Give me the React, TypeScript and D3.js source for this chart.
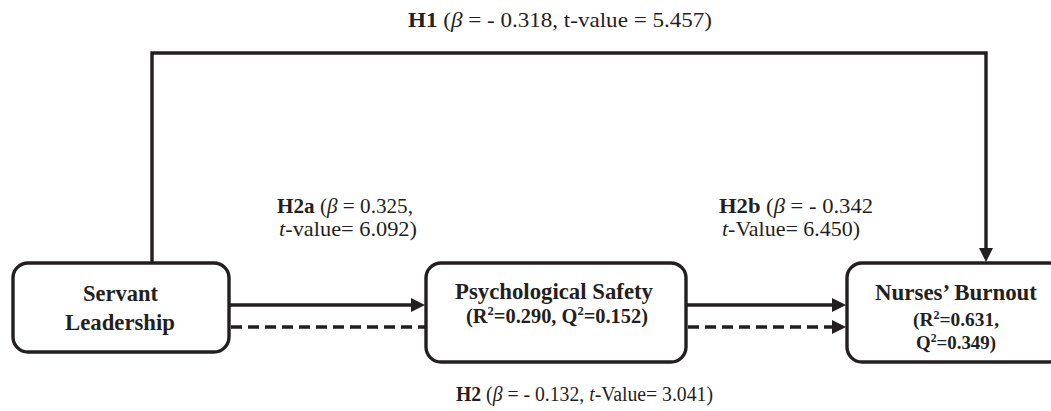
import React, { useEffect, useRef } from 'react';
import * as d3 from 'd3';

// Constructs (boxes)
const nodeIds = ['servant', 'psych', 'burnout'];
const nodeTitles = [['Servant', 'Leadership'], ['Psychological Safety'], ['Nurses\u2019 Burnout']];
const rSquared = [null, 0.29, 0.631];
const qSquared = [null, 0.152, 0.349];

// Hypotheses (paths)
const hypIds = ['H1', 'H2a', 'H2b', 'H2'];
const betas = [-0.318, 0.325, -0.342, -0.132];
const tValues = [5.457, 6.092, 6.45, 3.041];

const INK = '#231f20';
const SERIF = '"Liberation Serif", "Times New Roman", serif';

type Seg = { t: string; b?: boolean; i?: boolean; sup?: boolean };
type Line = { x: number; y: number; w: number; size: number; segs: Seg[] };

const fmtB = (v: number) => (v < 0 ? '- ' : '') + Math.abs(v).toFixed(3);
const fmtT = (v: number) => v.toFixed(3);

function App() {
    const ref = useRef<SVGSVGElement | null>(null);

    useEffect(() => {
        if (!ref.current) return;
        const svg = d3.select(ref.current);
        svg.selectAll('*').remove();

        // box geometry
        const boxes = [
            { x0: 13, x1: 229, y0: 263, y1: 352 },
            { x0: 426, x1: 686, y0: 263, y1: 362 },
            { x0: 847, x1: 1064, y0: 263, y1: 362 },
        ];
        const yTop = 53;
        const ySolid = 305;
        const yDash = 327;
        const xUp = 152;
        const xDown = 986;
        const ah = 14; // arrowhead length
        const aw = 7; // arrowhead half width

        const g = svg.append('g');

        const arrowRight = (x: number, y: number) =>
            g.append('path')
                .attr('d', `M${x},${y} L${x - ah},${y - aw} L${x - ah},${y + aw} Z`)
                .attr('fill', INK);
        const arrowDown = (x: number, y: number) =>
            g.append('path')
                .attr('d', `M${x},${y} L${x - aw},${y - ah} L${x + aw},${y - ah} Z`)
                .attr('fill', INK);

        const line = d3.line<[number, number]>();

        // H1 direct path over the top
        g.append('path')
            .attr('d', line([[xUp, boxes[0].y0], [xUp, yTop], [xDown, yTop], [xDown, boxes[2].y0 - ah + 1]]))
            .attr('fill', 'none').attr('stroke', INK).attr('stroke-width', 3.4)
            .attr('stroke-linejoin', 'miter');
        arrowDown(xDown, boxes[2].y0 - 1);

        // H2a / H2b solid arrows
        [[0, 1], [1, 2]].forEach(([a, b]) => {
            g.append('path')
                .attr('d', line([[boxes[a].x1, ySolid], [boxes[b].x0 - ah + 1, ySolid]]))
                .attr('stroke', INK).attr('stroke-width', 3.6);
            arrowRight(boxes[b].x0 - 1, ySolid);
        });

        // H2 indirect (dashed) path
        g.append('path')
            .attr('d', line([[boxes[0].x1 + 2, yDash], [boxes[1].x0, yDash]]))
            .attr('stroke', INK).attr('stroke-width', 3.6).attr('stroke-dasharray', '11,6');
        g.append('path')
            .attr('d', line([[boxes[1].x1 + 2, yDash], [boxes[2].x0 - ah + 1, yDash]]))
            .attr('stroke', INK).attr('stroke-width', 3.6).attr('stroke-dasharray', '11,6');
        arrowRight(boxes[2].x0 - 1, yDash);

        // boxes
        g.selectAll('rect.node')
            .data(nodeIds)
            .enter()
            .append('rect')
            .attr('class', 'node')
            .attr('x', (d, i) => boxes[i].x0)
            .attr('y', (d, i) => boxes[i].y0)
            .attr('width', (d, i) => boxes[i].x1 - boxes[i].x0)
            .attr('height', (d, i) => boxes[i].y1 - boxes[i].y0)
            .attr('rx', 15)
            .attr('fill', '#fff')
            .attr('stroke', INK)
            .attr('stroke-width', 3.4);

        // text lines
        const lines: Line[] = [];
        const sq = (k: string, v: number): Seg[] => [
            { t: k, b: true }, { t: '2', b: true, sup: true }, { t: '=' + v.toFixed(3), b: true },
        ];

        // box labels
        lines.push({ x: 83, y: 301, w: 75, size: 23, segs: [{ t: nodeTitles[0][0], b: true }] });
        lines.push({ x: 65, y: 330, w: 110, size: 23, segs: [{ t: nodeTitles[0][1], b: true }] });
        lines.push({ x: 455, y: 299, w: 198, size: 23, segs: [{ t: nodeTitles[1][0], b: true }] });
        lines.push({
            x: 466, y: 323, w: 182, size: 20,
            segs: [{ t: '(', b: true }, ...sq('R', rSquared[1] as number), { t: ', ', b: true },
                ...sq('Q', qSquared[1] as number), { t: ')', b: true }],
        });
        lines.push({ x: 875, y: 300, w: 162, size: 23, segs: [{ t: nodeTitles[2][0], b: true }] });
        lines.push({
            x: 913, y: 326, w: 86, size: 18.5,
            segs: [{ t: '(', b: true }, ...sq('R', rSquared[2] as number), { t: ',', b: true }],
        });
        lines.push({
            x: 916, y: 349, w: 80, size: 18.5,
            segs: [...sq('Q', qSquared[2] as number), { t: ')', b: true }],
        });

        // hypothesis labels
        const beta: Seg = { t: '\u03b2', i: true };
        lines.push({
            x: 408, y: 27, w: 304, size: 22,
            segs: [{ t: hypIds[0], b: true }, { t: ' (' }, beta,
                { t: ` = ${fmtB(betas[0])}, t-value = ${fmtT(tValues[0])})` }],
        });
        lines.push({
            x: 277, y: 213, w: 136, size: 21,
            segs: [{ t: hypIds[1], b: true }, { t: ' (' }, beta, { t: ` = ${fmtB(betas[1])},` }],
        });
        lines.push({
            x: 279, y: 236, w: 138, size: 21,
            segs: [{ t: 't', i: true }, { t: `-value= ${fmtT(tValues[1])})` }],
        });
        lines.push({
            x: 719, y: 213, w: 154, size: 21,
            segs: [{ t: hypIds[2], b: true }, { t: ' (' }, beta, { t: ` = ${fmtB(betas[2])}` }],
        });
        lines.push({
            x: 722, y: 236, w: 138, size: 21,
            segs: [{ t: 't', i: true }, { t: `-Value= ${fmtT(tValues[2])})` }],
        });
        lines.push({
            x: 456, y: 401, w: 257, size: 20,
            segs: [{ t: hypIds[3], b: true }, { t: ' (' }, beta, { t: ` = ${fmtB(betas[3])}, ` },
                { t: 't', i: true }, { t: `-Value= ${fmtT(tValues[3])})` }],
        });

        lines.forEach((ln) => {
            const txt = g.append('text')
                .attr('x', ln.x)
                .attr('y', ln.y)
                .attr('font-family', SERIF)
                .attr('font-size', ln.size)
                .attr('fill', INK)
                .attr('textLength', ln.w)
                .attr('lengthAdjust', 'spacingAndGlyphs')
                .style('white-space', 'pre');
            let shifted = false;
            ln.segs.forEach((s) => {
                const ts = txt.append('tspan')
                    .attr('font-weight', s.b ? 'bold' : 'normal')
                    .attr('font-style', s.i ? 'italic' : 'normal')
                    .text(s.t);
                if (s.sup) {
                    ts.attr('dy', -ln.size * 0.38).attr('font-size', ln.size * 0.62);
                    shifted = true;
                } else if (shifted) {
                    ts.attr('dy', ln.size * 0.38);
                    shifted = false;
                }
            });
        });
    }, []);

    return (
        <svg
            ref={ref}
            width={1051}
            height={411}
            style={{ position: 'absolute', left: 0, top: 0, background: '#fff' }}
        />
    );
}

export default App;
